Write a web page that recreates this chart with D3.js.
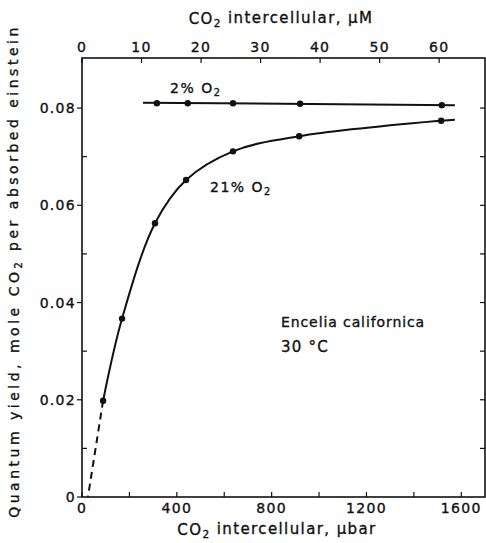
<!DOCTYPE html>
<html>
<head>
<meta charset="utf-8">
<script src="https://cdn.jsdelivr.net/npm/d3@7"></script>
<style>
  body { margin: 0; background: #fff; }
  svg { display: block; }
  text { font-family: "DejaVu Sans", sans-serif; fill: #111; stroke: #111; stroke-width: 0.35; }
</style>
</head>
<body>
<svg id="chart" width="486" height="543"></svg>
<script>
// CO2 intercellular (µbar) vs quantum yield
const o2Low_x = [316, 446, 637, 920, 1518]
const o2Low_y = [0.0810, 0.0810, 0.0810, 0.0809, 0.0806]
const o2Low_line = [[257, 0.0811], [1573, 0.0806]]    // drawn line ends past the points

const o2Air_x = [89, 169, 308, 439, 637, 916, 1515]
const o2Air_y = [0.0198, 0.0367, 0.0563, 0.0652, 0.0711, 0.0742, 0.0774]
const o2Air_end = [1573, 0.0776]
const o2Air_dash = [[89, 0.0198], [25, 0]]             // extrapolation to zero

const xTicks = [0, 400, 800, 1200, 1600]
const xMinor = d3.range(0, 1700, 200)
const yTicks = [0, 0.02, 0.04, 0.06, 0.08]
const yMinor = d3.range(0, 0.09, 0.01)
const topTicks = [0, 10, 20, 30, 40, 50, 60]

const svg = d3.select("#chart")
const L = 82, R = 485, T = 58, B = 497

const x = d3.scaleLinear().domain([0, 1700]).range([L, R])
const xTop = d3.scaleLinear().domain([0, 67.7]).range([L, R])   // µM, same axis
const y = d3.scaleLinear().domain([0, 0.0903]).range([B, T])

// frame
svg.append("rect").attr("x", L).attr("y", T).attr("width", R - L).attr("height", B - T)
  .attr("fill", "none").attr("stroke", "#111").attr("stroke-width", 1.6)

const tk = svg.append("g").attr("stroke", "#111").attr("stroke-width", 1.2)
// bottom ticks point up
xMinor.forEach(v => tk.append("line").attr("x1", x(v)).attr("x2", x(v)).attr("y1", B).attr("y2", B - 5))
// top ticks point down
topTicks.forEach(v => tk.append("line").attr("x1", xTop(v)).attr("x2", xTop(v)).attr("y1", T).attr("y2", T + 5))
// left: majors outward, minors inward
yMinor.forEach((v, i) => {
  if (i % 2 == 0) tk.append("line").attr("x1", L - 5).attr("x2", L).attr("y1", y(v)).attr("y2", y(v))
  else tk.append("line").attr("x1", L).attr("x2", L + 5).attr("y1", y(v)).attr("y2", y(v))
})
// right ticks inward
yMinor.slice(1).forEach(v => tk.append("line").attr("x1", R).attr("x2", R - 5).attr("y1", y(v)).attr("y2", y(v)))

// tick labels
svg.append("g").selectAll("text").data(xTicks).join("text")
  .attr("x", d => x(d)).attr("y", B + 16).attr("text-anchor", "middle")
  .attr("font-size", 14).attr("letter-spacing", 1.3).text(d => d)
svg.append("g").selectAll("text").data(topTicks).join("text")
  .attr("x", d => xTop(d)).attr("y", T - 6).attr("text-anchor", "middle")
  .attr("font-size", 14).attr("letter-spacing", 1.3).text(d => d)
svg.append("g").selectAll("text").data(yTicks).join("text")
  .attr("x", L - 6).attr("y", d => y(d) + 5).attr("text-anchor", "end")
  .attr("font-size", 14).attr("letter-spacing", 1.3).text(d => d == 0 ? "0" : d3.format(".2f")(d))

// axis titles
const sub = (sel, pre, post) => {
  sel.append("tspan").text(pre)
  sel.append("tspan").attr("font-size", "0.7em").attr("dy", "0.3em").text("2")
  sel.append("tspan").attr("dy", "-0.3em").text(post)
}
sub(svg.append("text").attr("x", 281).attr("y", 24).attr("text-anchor", "middle")
  .attr("font-size", 15).attr("letter-spacing", 1.4),
  "CO", " intercellular, µM")
sub(svg.append("text").attr("x", 277).attr("y", 535).attr("text-anchor", "middle")
  .attr("font-size", 15).attr("letter-spacing", 1.4),
  "CO", " intercellular, µbar")
sub(svg.append("text").attr("transform", "translate(19,271) rotate(-90)").attr("text-anchor", "middle")
  .attr("font-size", 14).attr("letter-spacing", 3.5),
  "Quantum yield, mole CO", " per absorbed einstein")

// lines
const line = d3.line().x(d => x(d[0])).y(d => y(d[1]))
svg.append("path").attr("d", line(o2Low_line)).attr("fill", "none").attr("stroke", "#111").attr("stroke-width", 2)

const airPts = o2Air_x.map((v, i) => [v, o2Air_y[i]]).concat([o2Air_end])
svg.append("path").attr("d", d3.line().x(d => x(d[0])).y(d => y(d[1])).curve(d3.curveCatmullRom.alpha(0.5))(airPts))
  .attr("fill", "none").attr("stroke", "#111").attr("stroke-width", 2)
svg.append("path").attr("d", line(o2Air_dash))
  .attr("fill", "none").attr("stroke", "#111").attr("stroke-width", 2).attr("stroke-dasharray", "7,5")

// markers
const mk = svg.append("g").attr("fill", "#111")
o2Low_x.forEach((v, i) => mk.append("circle").attr("cx", x(v)).attr("cy", y(o2Low_y[i])).attr("r", 3.2))
o2Air_x.forEach((v, i) => mk.append("circle").attr("cx", x(v)).attr("cy", y(o2Air_y[i])).attr("r", 3.2))

// series labels
sub(svg.append("text").attr("x", 170).attr("y", 93).attr("font-size", 14).attr("letter-spacing", 1.5), "2% O", "")
sub(svg.append("text").attr("x", 210).attr("y", 192).attr("font-size", 14).attr("letter-spacing", 1.5), "21% O", "")

svg.append("text").attr("x", 281).attr("y", 327).attr("font-size", 14).attr("letter-spacing", 0.9).text("Encelia californica")
svg.append("text").attr("x", 281).attr("y", 352).attr("font-size", 15).attr("letter-spacing", 1.2).text("30 °C")
</script>
</body>
</html>
